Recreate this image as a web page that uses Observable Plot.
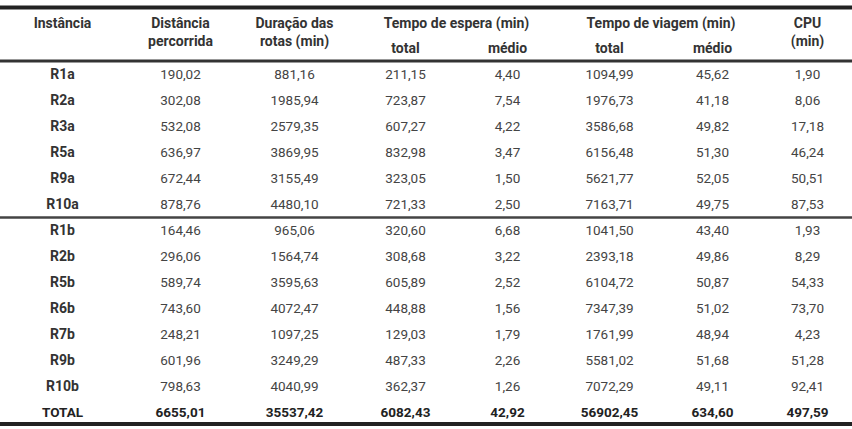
<!DOCTYPE html>
<html>
<head>
<meta charset="utf-8">
<script src="https://cdn.jsdelivr.net/npm/d3@7"></script>
<script src="https://cdn.jsdelivr.net/npm/@observablehq/plot@0.6"></script>
<style>
  html, body { margin: 0; padding: 0; background: #fff; }
  #chart svg { display: block; }
</style>
</head>
<body>
<div id="chart"></div>
<script>
// ---------- DATA ----------
const instances = ["R1a","R2a","R3a","R5a","R9a","R10a","R1b","R2b","R5b","R6b","R7b","R9b","R10b"];
const distancia   = [190.02, 302.08, 532.08, 636.97, 672.44, 878.76, 164.46, 296.06, 589.74, 743.60, 248.21, 601.96, 798.63];
const duracao     = [881.16, 1985.94, 2579.35, 3869.95, 3155.49, 4480.10, 965.06, 1564.74, 3595.63, 4072.47, 1097.25, 3249.29, 4040.99];
const esperaTotal = [211.15, 723.87, 607.27, 832.98, 323.05, 721.33, 320.60, 308.68, 605.89, 448.88, 129.03, 487.33, 362.37];
const esperaMedio = [4.40, 7.54, 4.22, 3.47, 1.50, 2.50, 6.68, 3.22, 2.52, 1.56, 1.79, 2.26, 1.26];
const viagemTotal = [1094.99, 1976.73, 3586.68, 6156.48, 5621.77, 7163.71, 1041.50, 2393.18, 6104.72, 7347.39, 1761.99, 5581.02, 7072.29];
const viagemMedio = [45.62, 41.18, 49.82, 51.30, 52.05, 49.75, 43.40, 49.86, 50.87, 51.02, 48.94, 51.68, 49.11];
const cpu         = [1.90, 8.06, 17.18, 46.24, 50.51, 87.53, 1.93, 8.29, 54.33, 73.70, 4.23, 51.28, 92.41];
const totalLabel  = "TOTAL";
const totals      = [6655.01, 35537.42, 6082.43, 42.92, 56902.45, 634.60, 497.59];

const columnKeys  = ["inst","dist","dur","espTot","espMed","viaTot","viaMed","cpu"];
const headerLine1 = ["Instância","Distância","Duração das",null,null,null,null,"CPU"];
const headerLine2 = [null,"percorrida","rotas (min)",null,null,null,null,"(min)"];
const subHeaders  = [null,null,null,"total","médio","total","médio",null];
const groupHeaders = [
  {label: "Tempo de espera (min)", cols: ["espTot","espMed"]},
  {label: "Tempo de viagem (min)", cols: ["viaTot","viaMed"]}
];

// ---------- LAYOUT (relative column widths) ----------
const colWidths = {inst:124, dist:112, dur:116, espTot:106, espMed:98, viaTot:106, viaMed:100, cpu:90};
const colStart = {}, colCenter = {};
{ let acc = 0; for (const k of columnKeys) { colStart[k] = acc; colCenter[k] = acc + colWidths[k] / 2; acc += colWidths[k]; } }
const tableWidth = d3.sum(columnKeys, k => colWidths[k]);

const fmt = d3.formatLocale({decimal: ",", thousands: ".", grouping: [3], currency: ["", ""]}).format(".2f");

// ---------- build cells ----------
const series = [distancia, duracao, esperaTotal, esperaMedio, viagemTotal, viagemMedio, cpu];
const labelCells = instances.map(r => ({row: r, col: "inst", text: r}));
const bodyCells = [];
instances.forEach((r, i) => {
  series.forEach((s, j) => bodyCells.push({row: r, col: columnKeys[j + 1], text: fmt(s[i])}));
});
const totalCells = [{row: totalLabel, col: "inst", text: totalLabel}]
  .concat(totals.map((v, j) => ({row: totalLabel, col: columnKeys[j + 1], text: fmt(v)})));

const head1 = columnKeys.map((k, i) => ({col: k, text: headerLine1[i]})).filter(d => d.text);
const head2 = columnKeys.map((k, i) => ({col: k, text: headerLine2[i]})).filter(d => d.text);
const sub   = columnKeys.map((k, i) => ({col: k, text: subHeaders[i]})).filter(d => d.text);
const groups = groupHeaders.map(g => ({
  text: g.label,
  mid: (colCenter[g.cols[0]] + colCenter[g.cols[1]]) / 2,
  x1: colStart[g.cols[0]],
  x2: colStart[g.cols[1]] + colWidths[g.cols[1]]
}));
const groupSpan = [{x1: d3.min(groups, d => d.x1), x2: d3.max(groups, d => d.x2)}];

const rowDomain = ["h1", "h2", ...instances, totalLabel];
const font = "Roboto, 'Liberation Sans', sans-serif";
const hdr = {fontWeight: "bold", fontSize: 14, fill: "#333"};

const chart = Plot.plot({
  width: 852,
  height: 429,
  marginTop: 22,
  marginBottom: 17,
  marginLeft: 0,
  marginRight: 0,
  style: {fontFamily: font, background: "#fff"},
  x: {type: "linear", domain: [0, tableWidth], axis: null},
  y: {type: "point", domain: rowDomain, padding: 0, axis: null},
  marks: [
    // horizontal rules
    Plot.ruleY(["h1"], {dy: -15, stroke: "#222", strokeWidth: 4}),
    Plot.ruleX(groupSpan, {x1: "x1", x2: "x2", y: () => "h1", dy: 11, stroke: "#555", strokeWidth: 2}),
    Plot.ruleY([instances[0]], {dy: -13.5, stroke: "#333", strokeWidth: 3}),
    Plot.ruleY([instances[6]], {dy: -13, stroke: "#444", strokeWidth: 2.5}),
    Plot.ruleY([totalLabel], {dy: 11.5, stroke: "#222", strokeWidth: 4}),
    // headers
    Plot.text(head1, {x: d => colCenter[d.col], y: () => "h1", dy: 1, text: "text", ...hdr}),
    Plot.text(head2, {x: d => colCenter[d.col], y: () => "h1", dy: 19, text: "text", ...hdr}),
    Plot.text(groups, {x: "mid", y: () => "h1", dy: 1, text: "text", ...hdr}),
    Plot.text(sub, {x: d => colCenter[d.col], y: () => "h2", text: "text", ...hdr}),
    // body
    Plot.text(labelCells, {x: d => colCenter[d.col], y: "row", text: "text", fontWeight: "bold", fontSize: 14, fill: "#333"}),
    Plot.text(bodyCells, {x: d => colCenter[d.col], y: "row", text: "text", fontWeight: "normal", fontSize: 13.5, fill: "#444"}),
    Plot.text(totalCells, {x: d => colCenter[d.col], y: "row", text: "text", fontWeight: "bold", fontSize: 13.5, fill: "#222"})
  ]
});
document.getElementById("chart").appendChild(chart);
</script>
</body>
</html>
